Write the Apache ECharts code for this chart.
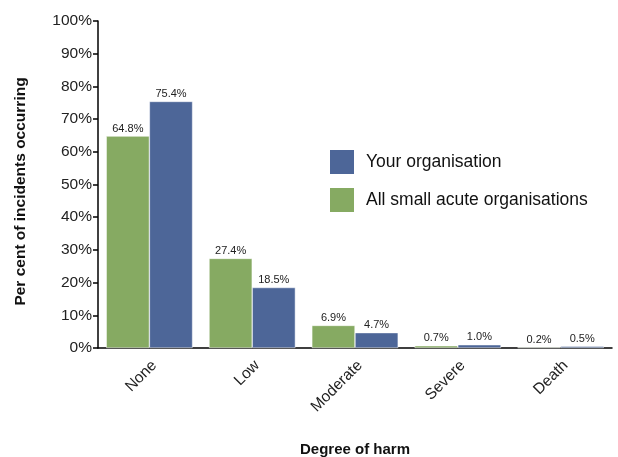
<!DOCTYPE html>
<html>
<head>
<meta charset="utf-8">
<script src="https://cdn.jsdelivr.net/npm/echarts@6/dist/echarts.min.js"></script>
<style>
  html, body { margin: 0; padding: 0; background: #fff; }
  #chart { width: 618px; height: 457px; }
</style>
</head>
<body>
<div id="chart"></div>
<script>
// Degree of harm categories along the x axis
const categories = ['None', 'Low', 'Moderate', 'Severe', 'Death'];
// Per cent of incidents, all small acute organisations
const allSmallAcute = [64.8, 27.4, 6.9, 0.7, 0.2];
// Per cent of incidents, your organisation
const yourOrganisation = [75.4, 18.5, 4.7, 1.0, 0.5];
// Y axis tick values (per cent)
const yTicks = [0, 10, 20, 30, 40, 50, 60, 70, 80, 90, 100];

const GREEN = '#86aa62';
const BLUE = '#4d6698';
const FONT = '"Liberation Sans", Arial, sans-serif';

const chart = echarts.init(document.getElementById('chart'), null, { renderer: 'canvas' });

const barLabel = {
  show: true,
  position: 'top',
  distance: 2,
  fontFamily: FONT,
  fontSize: 11,
  color: '#222',
  formatter: p => p.value.toFixed(1) + '%'
};

chart.setOption({
  animation: false,
  textStyle: { fontFamily: FONT },
  grid: { left: 98, right: 6, top: 21, bottom: 109, containLabel: false, outerBoundsMode: 'none' },
  legend: {
    orient: 'vertical',
    left: 328,
    top: 148,
    padding: 0,
    itemWidth: 26,
    itemHeight: 26,
    itemGap: 10,
    icon: 'rect',
    data: ['Your organisation', 'All small acute organisations'],
    textStyle: { fontFamily: FONT, fontSize: 17.5, color: '#111', padding: [0, 0, 0, 6] }
  },
  xAxis: {
    type: 'category',
    data: categories,
    name: 'Degree of harm',
    nameLocation: 'middle',
    nameGap: 94,
    nameTextStyle: { fontFamily: FONT, fontSize: 15, fontWeight: 'bold', color: '#111' },
    axisLine: { lineStyle: { color: '#000', width: 1.5 } },
    axisTick: { show: false },
    axisLabel: { rotate: 45, fontSize: 15.5, color: '#222', margin: 20, padding: [0, -7, 0, 0], fontFamily: FONT }
  },
  yAxis: {
    type: 'value',
    min: yTicks[0],
    max: yTicks[yTicks.length - 1],
    interval: yTicks[1] - yTicks[0],
    name: 'Per cent of incidents occurring',
    nameLocation: 'middle',
    nameGap: 69,
    nameTextStyle: { fontFamily: FONT, fontSize: 15.5, fontWeight: 'bold', color: '#111', padding: [0, 14, 0, 0] },
    axisLine: { show: true, lineStyle: { color: '#000', width: 1.5 } },
    axisTick: { show: true, length: 5, lineStyle: { color: '#000', width: 1.5 } },
    splitLine: { show: false },
    axisLabel: { fontSize: 15.5, color: '#222', margin: 6, fontFamily: FONT, formatter: v => v + '%' }
  },
  series: [
    {
      name: 'All small acute organisations',
      type: 'bar',
      data: allSmallAcute,
      barGap: '0%',
      barCategoryGap: '16%',
      itemStyle: { color: GREEN, borderColor: '#fff', borderWidth: 0.5 },
      label: barLabel
    },
    {
      name: 'Your organisation',
      type: 'bar',
      data: yourOrganisation,
      itemStyle: { color: BLUE, borderColor: '#fff', borderWidth: 0.5 },
      label: barLabel
    }
  ]
});
</script>
</body>
</html>
